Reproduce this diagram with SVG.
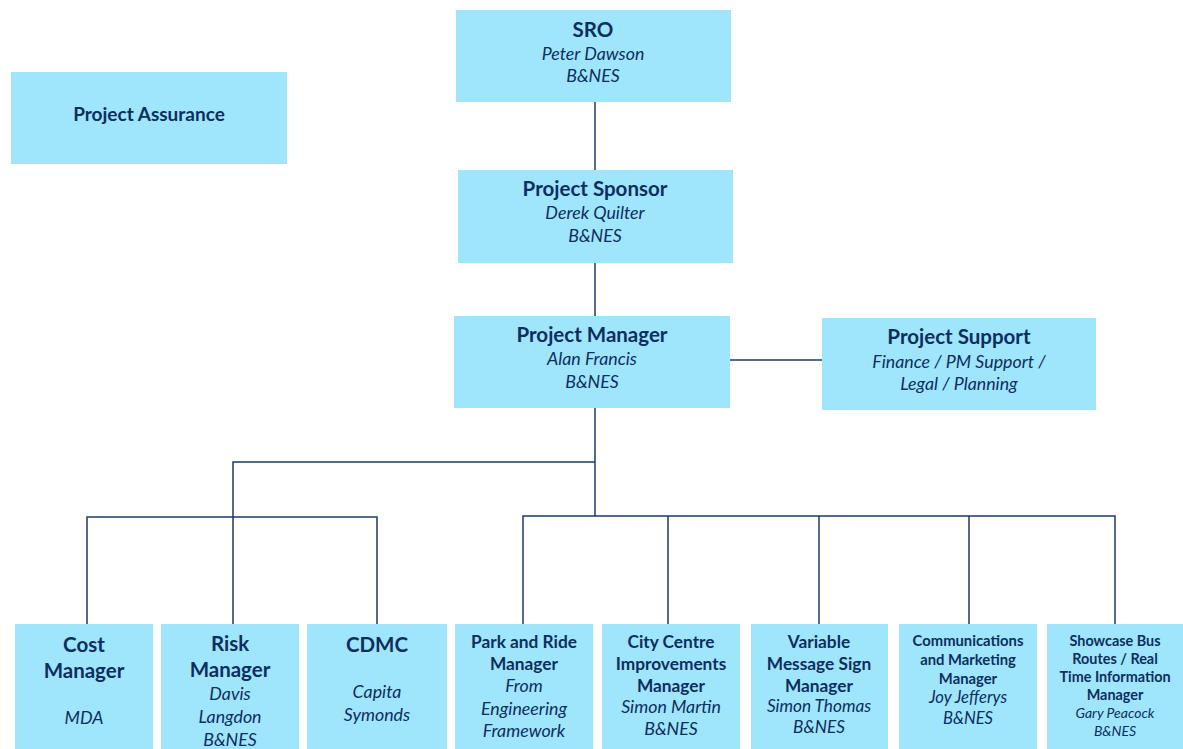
<svg xmlns="http://www.w3.org/2000/svg" width="1183" height="749" viewBox="0 0 1183 749">
<style>
.box{fill:#9fe5fc;}
text{font-family:Lato,"Open Sans","Liberation Sans",sans-serif;fill:#0c2f5e;text-anchor:middle;}
.b{font-weight:bold;}
.i{font-style:italic;}
.h{font-size:20.5px;}
.it{font-size:17.8px;}
.b17{font-size:17.3px;}
.i17{font-size:17.2px;}
.b15{font-size:14.8px;}
.i16{font-size:16.6px;}
.b14{font-size:14.4px;}
.i14{font-size:14px;}
.con{stroke:#1e3a63;stroke-width:1.5;fill:none;}
</style>
<rect width="1183" height="749" fill="#ffffff"/>
<g id="connectors">
<path class="con" d="M595 102V170M595 263V316M730 360H822M595 408V516M595 462H233V624M87 624V517H377V624M523 624V516H1115V624M668 516V624M819 516V624M969 516V624"/>
</g>
<g id="sro"><rect class="box" x="456" y="10" width="275" height="92"/>
<text class="b h" x="593" y="37">SRO</text>
<text class="i it" x="593" y="60">Peter Dawson</text>
<text class="i it" x="593" y="82">B&amp;NES</text></g>
<g id="assurance"><rect class="box" x="11" y="72" width="276" height="92"/>
<text class="b" style="font-size:19px" x="149" y="121">Project Assurance</text></g>
<g id="sponsor"><rect class="box" x="458" y="170" width="275" height="93"/>
<text class="b h" x="595" y="196">Project Sponsor</text>
<text class="i it" x="595" y="219">Derek Quilter</text>
<text class="i it" x="595" y="242">B&amp;NES</text></g>
<g id="pm"><rect class="box" x="454" y="316" width="276" height="92"/>
<text class="b h" x="592" y="342">Project Manager</text>
<text class="i it" x="592" y="365">Alan Francis</text>
<text class="i it" x="592" y="388">B&amp;NES</text></g>
<g id="support"><rect class="box" x="822" y="318" width="274" height="92"/>
<text class="b h" x="959" y="344">Project Support</text>
<text class="i it" x="959" y="368">Finance / PM Support /</text>
<text class="i it" x="959" y="390">Legal / Planning</text></g>
<g id="cost"><rect class="box" x="15" y="624" width="138" height="125"/>
<text class="b h" x="84" y="652">Cost</text>
<text class="b h" x="84" y="678">Manager</text>
<text class="i it" x="84" y="724">MDA</text></g>
<g id="risk"><rect class="box" x="161" y="624" width="138" height="125"/>
<text class="b h" x="230" y="651">Risk</text>
<text class="b h" x="230" y="677">Manager</text>
<text class="i it" x="230" y="700">Davis</text>
<text class="i it" x="230" y="723">Langdon</text>
<text class="i it" x="230" y="746">B&amp;NES</text></g>
<g id="cdmc"><rect class="box" x="307" y="624" width="140" height="125"/>
<text class="b h" x="377" y="652">CDMC</text>
<text class="i it" x="377" y="698">Capita</text>
<text class="i it" x="377" y="721">Symonds</text></g>
<g id="parkride"><rect class="box" x="455" y="624" width="138" height="125"/>
<text class="b b17" x="524" y="648">Park and Ride</text>
<text class="b b17" x="524" y="670">Manager</text>
<text class="i it" x="524" y="692">From</text>
<text class="i it" x="524" y="715">Engineering</text>
<text class="i it" x="524" y="737">Framework</text></g>
<g id="citycentre"><rect class="box" x="602" y="624" width="138" height="125"/>
<text class="b b17" x="671" y="648">City Centre</text>
<text class="b b17" x="671" y="670">Improvements</text>
<text class="b b17" x="671" y="692">Manager</text>
<text class="i it" x="671" y="713">Simon Martin</text>
<text class="i it" x="671" y="735">B&amp;NES</text></g>
<g id="vms"><rect class="box" x="751" y="624" width="137" height="125"/>
<text class="b b17" x="819" y="648">Variable</text>
<text class="b b17" x="819" y="670">Message Sign</text>
<text class="b b17" x="819" y="692">Manager</text>
<text class="i i17" x="819" y="712">Simon Thomas</text>
<text class="i i17" x="819" y="733">B&amp;NES</text></g>
<g id="comms"><rect class="box" x="899" y="624" width="138" height="125"/>
<text class="b b15" x="968" y="646">Communications</text>
<text class="b b15" x="968" y="665">and Marketing</text>
<text class="b b15" x="968" y="684">Manager</text>
<text class="i i16" x="968" y="703">Joy Jefferys</text>
<text class="i i16" x="968" y="724">B&amp;NES</text></g>
<g id="showcase"><rect class="box" x="1047" y="624" width="136" height="125"/>
<text class="b b14" x="1115" y="646">Showcase Bus</text>
<text class="b b14" x="1115" y="664">Routes / Real</text>
<text class="b b14" x="1115" y="682">Time Information</text>
<text class="b b14" x="1115" y="700">Manager</text>
<text class="i i14" x="1115" y="718">Gary Peacock</text>
<text class="i i14" x="1115" y="736">B&amp;NES</text></g>
</svg>
